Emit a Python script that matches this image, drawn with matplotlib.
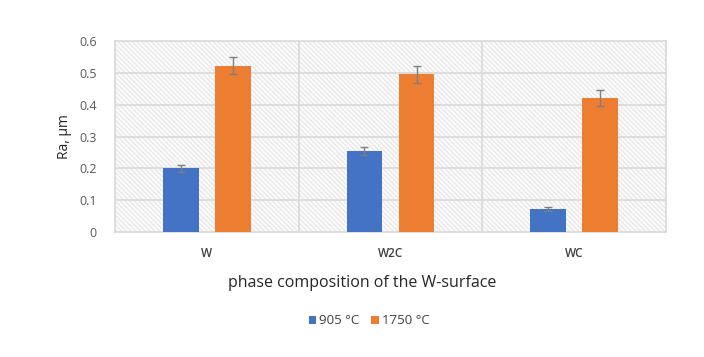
import matplotlib
matplotlib.use("Agg")
import matplotlib.pyplot as plt
import numpy as np
from matplotlib.patches import Rectangle

plt.rcParams['font.family'] = ['Open Sans', 'DejaVu Sans']
plt.rcParams['hatch.linewidth'] = 0.6

categories = ["W", "W2C", "WC"]
series_names = ["905 °C", "1750 °C"]
ra_905 = [0.200, 0.255, 0.071]
ra_1750 = [0.522, 0.495, 0.421]
err_905 = [0.010, 0.013, 0.006]
err_1750 = [0.027, 0.026, 0.024]
yticks = [0, 0.1, 0.2, 0.3, 0.4, 0.5, 0.6]
ytick_labels = ["0", "0.1", "0.2", "0.3", "0.4", "0.5", "0.6"]

blue = "#4472c4"
orange = "#ed7d31"
grid_c = "#d9d9d9"

fig = plt.figure(figsize=(7.04, 3.57), dpi=100)
ax = fig.add_axes([115/704, 1-232/357, (666-115)/704, (232-41)/357])

# hatched background
ax.add_patch(Rectangle((0, 0), 1, 1, transform=ax.transAxes, facecolor="#fafafa",
                       edgecolor="#e2e2e2", hatch="\\\\\\\\\\\\\\", linewidth=0, zorder=0))

x = np.arange(len(categories))
w = 0.195
off = 0.142
ax.bar(x - off, ra_905, w, color=blue, zorder=3, label=series_names[0])
ax.bar(x + off, ra_1750, w, color=orange, zorder=3, label=series_names[1])
ax.errorbar(x - off, ra_905, yerr=err_905, fmt="none", ecolor="#7f7f7f",
            elinewidth=1, capsize=3, capthick=1, zorder=4)
ax.errorbar(x + off, ra_1750, yerr=err_1750, fmt="none", ecolor="#7f7f7f",
            elinewidth=1, capsize=3, capthick=1, zorder=4)

ax.set_xlim(-0.5, len(categories) - 0.5)
ax.set_ylim(0, 0.6)
ax.set_yticks(yticks)
ax.set_yticklabels(ytick_labels)
ax.set_xticks(x)
ax.set_xticklabels(categories, fontweight="semibold")
for yv in yticks[1:-1]:
    ax.axhline(yv, color=grid_c, lw=1.2, zorder=1)
for xv in [0.5, 1.5]:
    ax.axvline(xv, color=grid_c, lw=1.2, zorder=1)
for s in ax.spines.values():
    s.set_color(grid_c)
    s.set_linewidth(1.2)
ax.tick_params(axis="both", length=0, labelcolor="#595959")
ax.tick_params(axis="y", pad=13, labelsize=9)
ax.tick_params(axis="x", pad=11, labelcolor="#404040", labelsize=8.5)

ax.set_ylabel("Ra, µm", fontsize=10, color="#262626", labelpad=5)

fig.text(362/704, 1-283/357, "phase composition of the W-surface", ha="center",
         va="center", fontsize=11.5, color="#262626")

handles, labels = ax.get_legend_handles_labels()
leg = fig.legend(handles, labels, loc="center", bbox_to_anchor=(369/704, 1-321/357),
                 ncol=2, frameon=False, fontsize=9.5, handlelength=0.6, handleheight=0.6,
                 handletextpad=0.2, columnspacing=0.9)
for t in leg.get_texts():
    t.set_color("#404040")

fig.savefig("out.png", dpi=100, facecolor="white")
